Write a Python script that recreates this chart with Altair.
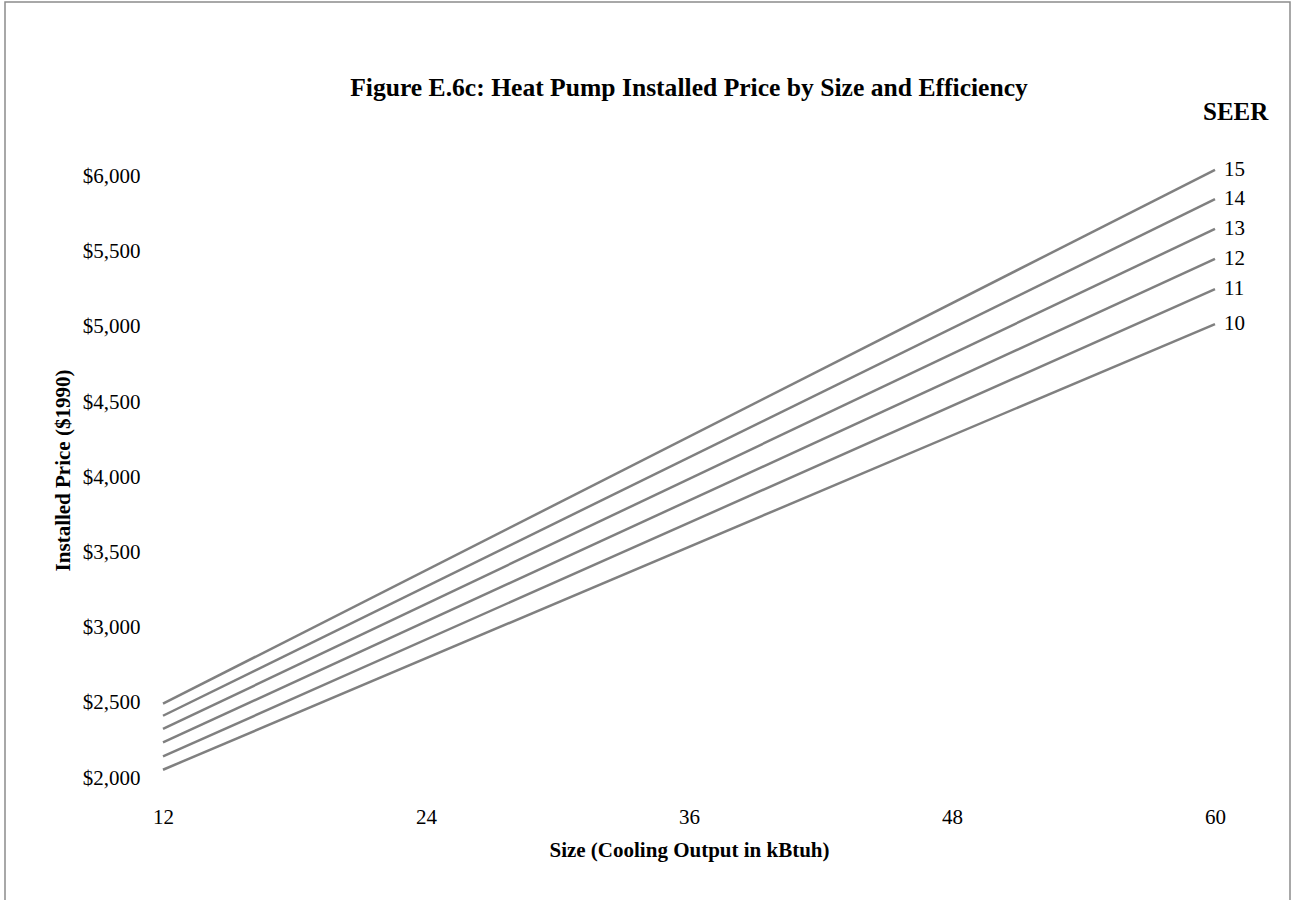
import altair as alt
import pandas as pd

# Installed price ($1990) at the two ends of the size range, one entry per SEER level
seer_levels = [10, 11, 12, 13, 14, 15]
size_small = 12
size_large = 60
price_at_small = [2055, 2144, 2237, 2326, 2414, 2494]
price_at_large = [5019, 5251, 5453, 5652, 5850, 6045]

y_ticks = [2000, 2500, 3000, 3500, 4000, 4500, 5000, 5500, 6000]
x_ticks = [12, 24, 36, 48, 60]

rows = []
for s, p0, p1 in zip(seer_levels, price_at_small, price_at_large):
    rows.append({"seer": s, "size": size_small, "price": p0})
    rows.append({"seer": s, "size": size_large, "price": p1})
lines_df = pd.DataFrame(rows)
ends_df = pd.DataFrame({"seer": seer_levels, "size": size_large, "price": price_at_large})

FONT = "Liberation Serif"
W, H = 1052, 615

x_scale = alt.Scale(domain=[12, 60], nice=False, zero=False)
y_scale = alt.Scale(domain=[2000, 6090], nice=False, zero=False)

x_enc = alt.X(
    "size:Q", scale=x_scale,
    axis=alt.Axis(
        values=x_ticks, title="Size (Cooling Output in kBtuh)", grid=False,
        domain=False, ticks=False, labelPadding=28, labelFontSize=21,
        labelFlush=False, labelFont=FONT, labelColor="#000", titleFont=FONT,
        titleFontSize=21, titleFontWeight="bold", titleColor="#000",
        titleX=526, titleY=72, titleBaseline="middle", titleAlign="center",
    ),
)
y_enc = alt.Y(
    "price:Q", scale=y_scale,
    axis=alt.Axis(
        values=y_ticks, format="$,.0f", title="Installed Price ($1990)",
        grid=False, domain=False, ticks=False, labelPadding=23,
        labelFontSize=21, labelFont=FONT, labelColor="#000", titleFont=FONT,
        titleFontSize=21, titleFontWeight="bold", titleColor="#000",
        titleX=-100, titleY=307, titleAngle=270, titleBaseline="middle",
        titleAlign="center",
    ),
)

lines = alt.Chart(lines_df).mark_line(color="#808080", strokeWidth=2.5).encode(
    x=x_enc, y=y_enc, detail="seer:N"
)

end_labels = alt.Chart(ends_df).mark_text(
    align="left", baseline="middle", dx=9, font=FONT, fontSize=21, color="#000"
).encode(x="size:Q", y="price:Q", text="seer:N")

one_row = pd.DataFrame({"k": [0]})

seer_title = alt.Chart(one_row).mark_text(
    text="SEER", align="left", baseline="middle", font=FONT, fontSize=25,
    fontWeight="bold", color="#000"
).encode(x=alt.value(1040), y=alt.value(-51))

chart_title = alt.Chart(one_row).mark_text(
    text="Figure E.6c: Heat Pump Installed Price by Size and Efficiency",
    align="center", baseline="middle", font=FONT, fontSize=25.6,
    fontWeight="bold", color="#000"
).encode(x=alt.value(526), y=alt.value(-75))

frame = alt.Chart(one_row).mark_rect(
    fillOpacity=0, stroke="#8c8c8c", strokeWidth=1.5
).encode(x=alt.value(-158), x2=alt.value(1127), y=alt.value(-161), y2=alt.value(800))

chart = alt.layer(frame, lines, end_labels, seer_title, chart_title).properties(
    width=W, height=H,
    autosize=alt.AutoSizeParams(type="none"),
    padding={"left": 163, "top": 163, "right": 76, "bottom": 122},
    background="white",
).configure_view(stroke=None)

chart.save("out.html", embed_options={"renderer": "svg", "actions": False})
